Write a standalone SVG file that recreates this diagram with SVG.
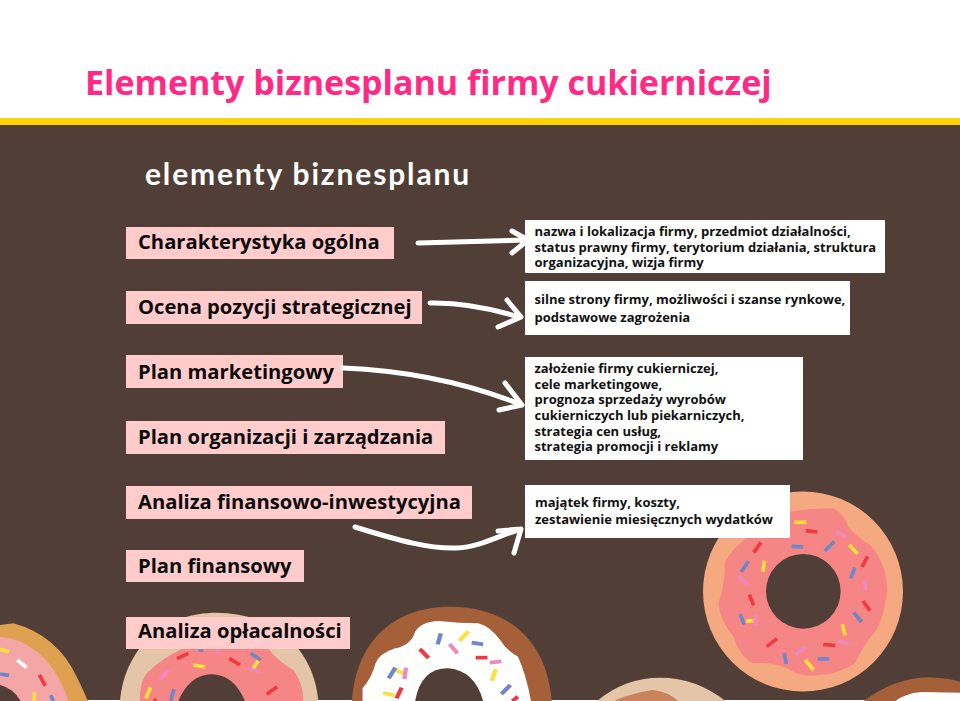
<svg xmlns="http://www.w3.org/2000/svg" width="960" height="701" viewBox="0 0 960 701">
<style>
.lab{fill:#ffcccb}
.lt{font:700 20.2px "Open Sans","Liberation Sans",sans-serif;fill:#0b0b0b}
.box{fill:#fff}
.bt{font:700 13px "Open Sans","Liberation Sans",sans-serif;fill:#111}
.arr{fill:none;stroke:#fff;stroke-width:5;stroke-linecap:round;stroke-linejoin:round}
.s line{stroke-width:11}
.r{stroke:#ee3a43}.y{stroke:#ffdf3a}.b{stroke:#6f86c9}.p{stroke:#ec8ac0}.w{stroke:#fff}
</style>
<rect width="960" height="701" fill="#fff"/>
<rect y="118" width="960" height="7" fill="#ffd400"/>
<rect y="125" width="960" height="575" fill="#513f37"/>
<text x="85" y="95" font-family="'Open Sans','Liberation Sans',sans-serif" font-weight="700" font-size="34" fill="#ff2a85">Elementy biznesplanu firmy cukierniczej</text>
<text x="145" y="185" font-family="'Lato','Liberation Sans',sans-serif" font-weight="700" font-size="30" letter-spacing="1.85" fill="#fff">elementy biznesplanu</text>

<g id="donut-left" transform="translate(0 590) scale(.3333)">
<path d="M0 105L40 100Q170 135 230 260Q255 310 263 333L0 333Z" fill="#dfa04f"/>
<path d="M0 140Q60 145 100 178Q170 225 205 333L0 333Z" fill="#f4a5a5"/>
<path d="M0 285Q40 295 62 333L0 333Z" fill="#513f37"/>
<g class="s"><line class="y" x1="0" y1="178" x2="27" y2="185"/><line class="w" x1="52" y1="210" x2="80" y2="233"/><line class="b" x1="0" y1="252" x2="27" y2="256"/><line class="r" x1="118" y1="255" x2="136" y2="288"/><line class="y" x1="103" y1="306" x2="103" y2="333"/><line class="b" x1="152" y1="316" x2="160" y2="333"/></g>
</g>

<g id="donut-beige" transform="translate(0 590) scale(.3333)">
<path d="M360 333C375 165 500 68 650 68C810 68 940 165 955 333Z" fill="#e5c5a8"/>
<path d="M420 333Q418 280 440 250Q490 200 560 170L800 170Q835 215 880 240Q908 275 910 333Z" fill="#f68685"/>
<path d="M535 333Q570 253 635 253Q700 253 735 333Z" fill="#513f37"/>
<g class="s"><line class="r" x1="531" y1="206" x2="565" y2="190"/><line class="b" x1="595" y1="180" x2="610" y2="180"/><line class="p" x1="648" y1="180" x2="660" y2="190"/><line class="r" x1="688" y1="205" x2="720" y2="225"/><line class="b" x1="752" y1="190" x2="782" y2="210"/><line class="p" x1="745" y1="235" x2="778" y2="245"/><line class="y" x1="775" y1="212" x2="760" y2="235"/><line class="y" x1="580" y1="225" x2="615" y2="231"/><line class="p" x1="505" y1="241" x2="480" y2="269"/><line class="y" x1="452" y1="292" x2="438" y2="325"/><line class="b" x1="522" y1="298" x2="512" y2="333"/><line class="r" x1="832" y1="290" x2="800" y2="313"/><line class="r" x1="460" y1="329" x2="470" y2="333"/></g>
</g>

<g id="donut-white" transform="translate(340 590) scale(.3954 .3333)">
<path d="M30 333C40 160 130 50 280 50C430 50 525 160 535 333Z" fill="#a56039"/>
<path d="M57 333L57 295Q80 265 90 220Q100 190 140 175Q180 165 190 125Q205 95 250 93Q300 100 350 100Q380 110 405 150Q420 180 450 200Q470 250 483 333Z" fill="#fff"/>
<path d="M190 333Q205 235 272 235Q340 240 362 333Z" fill="#513f37"/>
<g class="s"><line class="b" x1="255" y1="130" x2="247" y2="163"/><line class="y" x1="325" y1="124" x2="302" y2="152"/><line class="b" x1="333" y1="158" x2="362" y2="163"/><line class="p" x1="277" y1="162" x2="297" y2="190"/><line class="r" x1="202" y1="177" x2="224" y2="204"/><line class="r" x1="343" y1="203" x2="373" y2="203"/><line class="p" x1="379" y1="218" x2="408" y2="214"/><line class="y" x1="394" y1="238" x2="384" y2="272"/><line class="b" x1="431" y1="285" x2="408" y2="312"/><line class="y" x1="140" y1="240" x2="160" y2="250"/><line class="p" x1="167" y1="233" x2="163" y2="267"/><line class="b" x1="140" y1="233" x2="123" y2="265"/><line class="y" x1="109" y1="309" x2="138" y2="316"/><line class="r" x1="156" y1="293" x2="143" y2="325"/><line class="r" x1="450" y1="320" x2="436" y2="333"/></g>
</g>

<g id="donut-caramel" transform="translate(340 590) scale(.3954 .3333)">
<path d="M650 333Q720 263 810 263Q900 263 975 333Z" fill="#e5c5a8"/>
<path d="M695 333Q720 315 790 300Q830 305 855 333Z" fill="#c9835b"/>
</g>

<g id="donut-right" transform="translate(340 590) scale(.3954 .3333)">
<path d="M1325 333Q1400 265 1490 262Q1540 265 1568 275L1568 333Z" fill="#a56039"/>
<path d="M1405 333Q1430 310 1470 306L1568 308L1568 333Z" fill="#fff"/>
</g>

<g id="donut-big">
<circle cx="803" cy="591.500" r="100" fill="#f4a981"/>
<g transform="translate(690 490) scale(.3333)">
<path d="M105 215Q130 170 175 140Q210 100 300 65Q360 55 430 55Q465 75 475 110Q500 140 540 165Q590 220 592 300Q585 370 560 420Q520 465 495 520Q440 555 385 555Q340 565 290 535Q250 515 190 520Q150 500 130 440Q90 390 85 340Q105 290 105 215Z" fill="#f68685"/>
<circle cx="340" cy="304" r="112" fill="#513f37"/>
<g class="s"><line class="y" x1="313" y1="97" x2="349" y2="97"/><line class="r" x1="347" y1="122" x2="382" y2="126"/><line class="p" x1="437" y1="125" x2="468" y2="140"/><line class="y" x1="478" y1="165" x2="503" y2="192"/><line class="r" x1="533" y1="199" x2="516" y2="231"/><line class="b" x1="495" y1="233" x2="482" y2="265"/><line class="p" x1="525" y1="268" x2="526" y2="302"/><line class="r" x1="519" y1="333" x2="540" y2="362"/><line class="b" x1="491" y1="367" x2="515" y2="396"/><line class="y" x1="457" y1="403" x2="465" y2="436"/><line class="p" x1="445" y1="452" x2="478" y2="463"/><line class="r" x1="400" y1="463" x2="436" y2="467"/><line class="b" x1="383" y1="507" x2="418" y2="507"/><line class="y" x1="346" y1="510" x2="371" y2="540"/><line class="p" x1="346" y1="470" x2="317" y2="495"/><line class="b" x1="283" y1="489" x2="289" y2="522"/><line class="r" x1="261" y1="446" x2="230" y2="470"/><line class="y" x1="168" y1="394" x2="190" y2="392"/><line class="b" x1="150" y1="372" x2="163" y2="404"/><line class="p" x1="197" y1="375" x2="198" y2="408"/><line class="r" x1="178" y1="314" x2="191" y2="346"/><line class="p" x1="145" y1="259" x2="172" y2="283"/><line class="b" x1="175" y1="214" x2="154" y2="246"/><line class="y" x1="223" y1="212" x2="219" y2="245"/><line class="r" x1="213" y1="157" x2="191" y2="188"/><line class="b" x1="305" y1="169" x2="339" y2="171"/><line class="b" x1="433" y1="155" x2="404" y2="183"/></g>
</g>
</g>

<g id="label-1"><rect class="lab" x="126" y="227" width="268" height="32"/><text class="lt" x="138" y="249">Charakterystyka ogólna</text></g>
<g id="label-2"><rect class="lab" x="126" y="291" width="296" height="33"/><text class="lt" x="138" y="314">Ocena pozycji strategicznej</text></g>
<g id="label-3"><rect class="lab" x="126" y="355" width="217" height="33"/><text class="lt" x="138" y="379">Plan marketingowy</text></g>
<g id="label-4"><rect class="lab" x="126" y="421" width="319" height="33"/><text class="lt" x="138" y="444">Plan organizacji i zarządzania</text></g>
<g id="label-5"><rect class="lab" x="126" y="486" width="346" height="33"/><text class="lt" x="138" y="509">Analiza finansowo-inwestycyjna</text></g>
<g id="label-6"><rect class="lab" x="126" y="550" width="178" height="32"/><text class="lt" x="138" y="573">Plan finansowy</text></g>
<g id="label-7"><rect class="lab" x="126" y="617" width="224" height="32"/><text class="lt" x="138" y="638">Analiza opłacalności</text></g>

<g id="box-1"><rect class="box" x="525" y="220" width="360" height="53"/><text class="bt"><tspan x="534.500" y="236">nazwa i lokalizacja firmy, przedmiot działalności,</tspan><tspan x="534.500" y="252">status prawny firmy, terytorium działania, struktura</tspan><tspan x="534.500" y="267">organizacyjna, wizja firmy</tspan></text></g>
<g id="box-2"><rect class="box" x="525" y="281" width="325" height="54"/><text class="bt"><tspan x="534.500" y="304">silne strony firmy, możliwości i szanse rynkowe,</tspan><tspan x="534.500" y="322">podstawowe zagrożenia</tspan></text></g>
<g id="box-3"><rect class="box" x="525" y="357" width="278" height="103"/><text class="bt"><tspan x="534.500" y="373">założenie firmy cukierniczej,</tspan><tspan x="534.500" y="389">cele marketingowe,</tspan><tspan x="534.500" y="404">prognoza sprzedaży wyrobów</tspan><tspan x="534.500" y="420">cukierniczych lub piekarniczych,</tspan><tspan x="534.500" y="436">strategia cen usług,</tspan><tspan x="534.500" y="451">strategia promocji i reklamy</tspan></text></g>
<g id="box-4"><rect class="box" x="525" y="485" width="265" height="53"/><text class="bt"><tspan x="535" y="507">majątek firmy, koszty,</tspan><tspan x="535" y="524">zestawienie miesięcznych wydatków</tspan></text></g>

<g id="connectors">
<path class="arr" d="M418 243L527 240M512 231L528 240L512 253"/>
<path class="arr" d="M430 303Q470 302 519 317M507 300L521 317L498 327"/>
<path class="arr" d="M343 368Q440 372 522 405M505 383L522 405L499 410"/>
<path class="arr" d="M355 527C400 541 430 549 457 548C480 547 500 535 521 529M498 531L521 529L514 553"/>
</g>
</svg>
